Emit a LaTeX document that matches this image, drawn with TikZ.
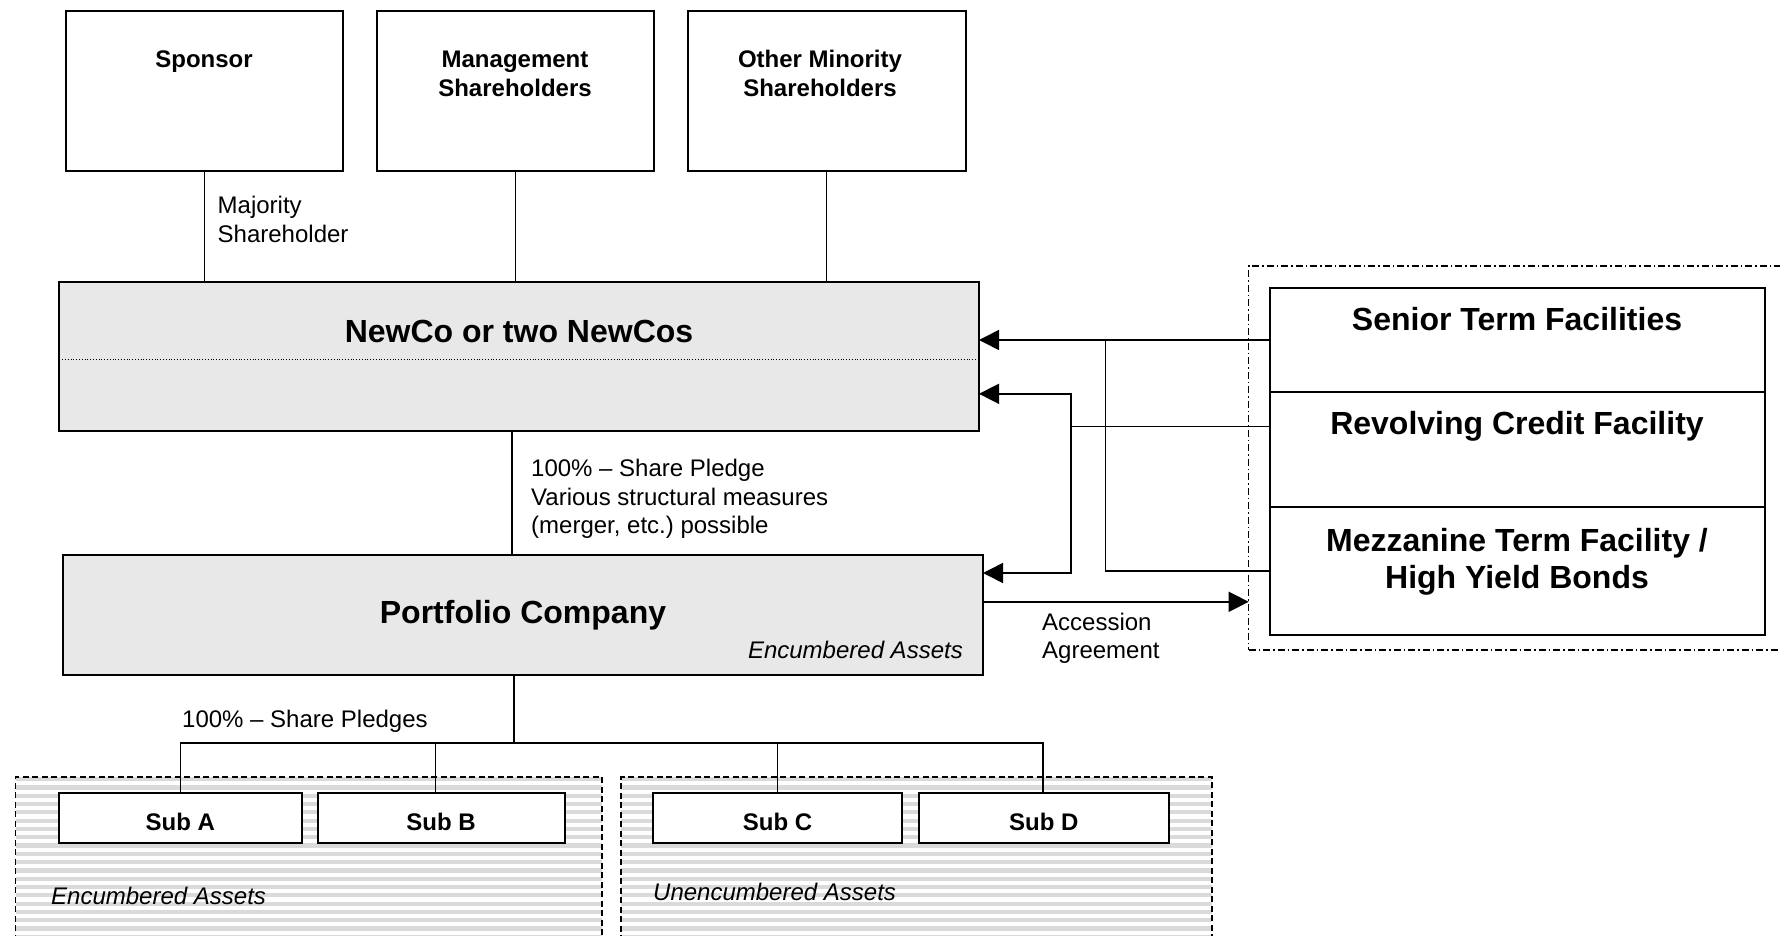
\documentclass[tikz,border=0pt]{standalone}
\usepackage{fontspec}
\setmainfont{Liberation Sans}
\usetikzlibrary{arrows.meta,calc}
\definecolor{boxgray}{RGB}{232,232,232}
\definecolor{stripegray}{RGB}{218,218,218}
\frenchspacing
\begin{document}
\begin{tikzpicture}[x=1pt,y=-1pt,
  box/.style={draw=black, line width=2pt, fill=white, inner sep=0pt, outer sep=0pt},
  gbox/.style={box, fill=boxgray},
  region/.style={draw=black, line width=1.5pt, dash pattern=on 6pt off 3.5pt, inner sep=0pt, outer sep=0pt},
  lendbox/.style={draw=black, line width=1.2pt, dash pattern=on 7pt off 3pt on 1.5pt off 3pt, inner sep=0pt, outer sep=0pt},
  conn/.style={line width=1.2pt},
  fconn/.style={line width=1.6pt},
  arr/.style={fconn, -{Triangle[length=20pt,width=20pt]}},
  txt/.style={font=\fontsize{24}{28.5}\selectfont, inner sep=0pt},
  txtb/.style={font=\fontsize{24}{29}\selectfont\bfseries, inner sep=0pt},
  txti/.style={font=\fontsize{24}{28.5}\selectfont\itshape, inner sep=0pt},
  big/.style={font=\fontsize{32}{37.3}\selectfont\bfseries, inner sep=0pt},
]
\useasboundingbox (0,0) rectangle (1780,936);
\clip (0,0) rectangle (1780,936);

% striped background of the asset regions
\foreach \y in {777,785.3,...,940}{
  \fill[stripegray] (15.7,\y) rectangle (602,\y+4.2);
  \fill[stripegray] (621,\y) rectangle (1212,\y+4.2);
}
\node[region, minimum width=586.3, minimum height=180, anchor=north west] (enc) at (15.7,777) {};
\node[region, minimum width=591, minimum height=180, anchor=north west] (unenc) at (621,777) {};

% shareholder boxes
\node[box, minimum width=277, minimum height=160] (sponsor) at (204.5,91) {};
\node[box, minimum width=277, minimum height=160] (mgmt) at (515.5,91) {};
\node[box, minimum width=278, minimum height=160] (other) at (826.5,91) {};
\node[txtb, anchor=base] (sponsorT) at (204,68) {Sponsor};
\node[txtb, anchor=base, align=center] (mgmtT) at (515,97) {Management\\Shareholders};
\node[txtb, anchor=base, align=center] (otherT) at (820,96.7) {Other Minority\\Shareholders};

% NewCo and Portfolio Company
\node[gbox, minimum width=919.7, minimum height=148.7] (newco) at (519.15,356.65) {};
\draw[line width=0.8pt, dotted] (newco.west |- 0,359.3) -- (newco.east |- 0,359.3);
\node[big, anchor=base] (newcoT) at (519,342) {NewCo or two NewCos};
\node[gbox, minimum width=920.5, minimum height=120] (port) at (522.75,615) {};
\node[big, anchor=base] (portT) at (523,623) {Portfolio Company};
\node[txti, anchor=base east] (portE) at (963,658) {Encumbered Assets};

% connectors from shareholders
\draw[conn] (sponsor.south) -- (sponsor.south |- newco.north);
\draw[conn] (mgmt.south) -- (mgmt.south |- newco.north);
\draw[conn] (other.south) -- (other.south |- newco.north);
\node[txt, anchor=base west, align=left, font=\fontsize{24}{29.4}\selectfont] (majT) at (217.5,242.7) {Majority\\Shareholder};

% NewCo to Portfolio
\coordinate (pl) at (512,0);
\draw[conn] (pl |- newco.south) -- (pl |- port.north);
\node[txt, anchor=base west, align=left, font=\fontsize{24}{28.3}\selectfont] (plT) at (531,533.3) {100\% -- Share Pledge\\Various structural measures\\(merger, etc.) possible};

% lenders
\node[lendbox, minimum width=560, minimum height=384, anchor=north west] (lend) at (1248.7,266) {};
\node[box, minimum width=494.7, minimum height=104.6] (sen) at (1517.35,340) {};
\node[box, minimum width=494.7, minimum height=114.4] (rev) at (1517.35,449.5) {};
\node[box, minimum width=494.7, minimum height=128.3] (mez) at (1517.35,570.85) {};
\node[big, anchor=base] (senT) at (1517,330) {Senior Term Facilities};
\node[big, anchor=base] (revT) at (1517,434) {Revolving Credit Facility};
\node[big, anchor=base, align=center] (mezT) at (1517,588.5) {Mezzanine Term Facility /\\High Yield Bonds};

% facility connectors
\draw[arr] (sen.west) -- (sen.west -| newco.east);
\coordinate (jm) at (1105.5,0);
\draw[fconn] (mez.west) -- (mez.west -| jm) -- (jm |- sen.west);
\coordinate (jr) at (1071,0);
\coordinate (revpt) at ($(rev.north west)!0.3!(rev.south west)$);
\coordinate (ncA) at ($(newco.north east)!0.75!(newco.south east)$);
\coordinate (pcA) at ($(port.north east)!0.15!(port.south east)$);
\coordinate (pcB) at ($(port.north east)!0.39!(port.south east)$);
\draw[fconn] (revpt) -- (revpt -| jr);
\draw[fconn, {Triangle[length=20pt,width=20pt]}-{Triangle[length=20pt,width=20pt]}] (ncA) -- (ncA -| jr) -- (pcA -| jr) -- (pcA);
\draw[arr] (pcB) -- (pcB -| lend.west);
\node[txt, anchor=base west, align=left, font=\fontsize{24}{27.6}\selectfont] (accT) at (1042,658.3) {Accession\\Agreement};

% subsidiaries
\node[box, minimum width=243.2, minimum height=50] (subA) at (180.4,817.7) {};
\node[box, minimum width=247.1, minimum height=50] (subB) at (441.15,817.7) {};
\node[box, minimum width=249, minimum height=50] (subC) at (777.5,817.7) {};
\node[box, minimum width=249.6, minimum height=50] (subD) at (1043.8,817.7) {};
\node[txtb, anchor=base] at (subA |- 0,830) {Sub A};
\node[txtb, anchor=base] at (subB |- 0,830) {Sub B};
\node[txtb, anchor=base] at (subC |- 0,830) {Sub C};
\node[txtb, anchor=base] at (subD |- 0,830) {Sub D};

\coordinate (busM) at (514,743);
\coordinate (busR) at (1043,743);
\coordinate (dropB) at ($(subB.north west)!0.476!(subB.north east)$);
\draw[conn] (port.south -| busM) -- (busM);
\draw[conn] (subA.north) |- (busR) -- (busR |- subD.north);
\draw[conn] (dropB) -- (dropB |- busM);
\draw[conn] (subC.north) -- (subC.north |- busM);
\node[txt, anchor=base west] (sharesT) at (182,727) {100\% -- Share Pledges};

\node[txti, anchor=base west] (encT) at (51,904) {Encumbered Assets};
\node[txti, anchor=base west] (unencT) at (653,900) {Unencumbered Assets};
\end{tikzpicture}
\end{document}
